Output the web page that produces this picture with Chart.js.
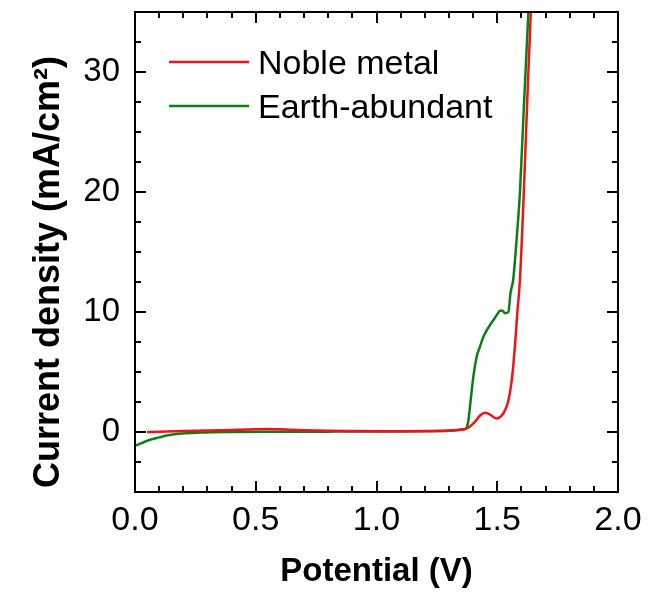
<!DOCTYPE html>
<html>
<head>
<meta charset="utf-8">
<script src="https://cdn.jsdelivr.net/npm/chart.js@4.4.0/dist/chart.umd.min.js"></script>
<style>
  html, body { margin: 0; padding: 0; background: #fff; }
</style>
</head>
<body>
<canvas id="myChart" width="663" height="597"></canvas>
<script>
// tick labels
const xTicks = [0, 0.5, 1.0, 1.5, 2.0];
const yTicks = [0, 10, 20, 30];

// Noble metal curve (V, mA/cm2)
const noblePotential = [0.05, 0.10, 0.20, 0.30, 0.40, 0.50, 0.55, 0.60, 0.70, 0.80, 0.90, 1.00, 1.10, 1.20, 1.30, 1.35, 1.38, 1.41, 1.43, 1.45, 1.47, 1.497, 1.515, 1.532, 1.546, 1.56, 1.573, 1.583, 1.594, 1.61, 1.625, 1.645];
const nobleCurrent   = [0.00, 0.03, 0.08, 0.12, 0.17, 0.22, 0.25, 0.22, 0.15, 0.10, 0.08, 0.07, 0.07, 0.08, 0.12, 0.18, 0.35, 0.90, 1.40, 1.60, 1.45, 1.12, 1.30, 1.80, 2.60, 4.30, 7.10, 9.90, 12.7, 20.0, 28.0, 38.0];

// Earth-abundant curve (V, mA/cm2)
const earthPotential = [0.00, 0.03, 0.062, 0.10, 0.131, 0.18, 0.27, 0.40, 0.60, 0.80, 1.00, 1.20, 1.30, 1.35, 1.365, 1.373, 1.38, 1.387, 1.394, 1.401, 1.415, 1.43, 1.442, 1.46, 1.483, 1.50, 1.511, 1.522, 1.532, 1.546, 1.555, 1.566, 1.58, 1.594, 1.61, 1.629, 1.64];
const earthCurrent   = [-1.15, -0.90, -0.65, -0.45, -0.30, -0.15, -0.05, 0.00, 0.02, 0.03, 0.04, 0.06, 0.10, 0.20, 0.25, 0.35, 0.90, 2.10, 3.40, 4.60, 6.30, 7.20, 7.90, 8.60, 9.30, 9.80, 10.1, 10.1, 9.90, 10.0, 11.6, 12.7, 16.0, 20.0, 27.0, 35.0, 40.0];

const FONT = "'Liberation Sans', Arial, sans-serif";

function toPoints(xs, ys) {
  return xs.map((v, i) => ({ x: v, y: ys[i] }));
}

// frame with inward ticks on all four sides
const frameTicks = {
  id: 'frameTicks',
  afterDatasetsDraw(chart) {
    const { ctx, chartArea: a, scales: { x, y } } = chart;
    ctx.save();
    ctx.strokeStyle = '#000';
    ctx.lineWidth = 2;
    ctx.beginPath();
    for (let i = 0; i <= 20; i++) {
      const v = i / 10;
      const px = Math.round(x.getPixelForValue(v));
      const len = (i % 5 === 0) ? 11 : 6;
      ctx.moveTo(px, a.bottom); ctx.lineTo(px, a.bottom - len);
      ctx.moveTo(px, a.top); ctx.lineTo(px, a.top + len);
    }
    for (let i = -2; i <= 14; i++) {
      const v = i * 2.5;
      const py = Math.round(y.getPixelForValue(v));
      const len = (i % 4 === 0) ? 11 : 6;
      ctx.moveTo(a.left, py); ctx.lineTo(a.left + len, py);
      ctx.moveTo(a.right, py); ctx.lineTo(a.right - len, py);
    }
    ctx.stroke();
    ctx.strokeRect(a.left, a.top, a.right - a.left, a.bottom - a.top);
    ctx.restore();
  }
};

// legend drawn inside the plot, top left
const innerLegend = {
  id: 'innerLegend',
  afterDraw(chart) {
    const ctx = chart.ctx;
    ctx.save();
    ctx.font = '34px ' + FONT;
    ctx.fillStyle = '#000';
    ctx.textBaseline = 'alphabetic';
    chart.data.datasets.forEach((ds, i) => {
      const ly = 62 + i * 44;
      ctx.strokeStyle = ds.borderColor;
      ctx.lineWidth = 2.5;
      ctx.beginPath();
      ctx.moveTo(169, ly);
      ctx.lineTo(249, ly);
      ctx.stroke();
      ctx.fillText(ds.label, 258, ly + 12);
    });
    ctx.restore();
  }
};

const ctx = document.getElementById('myChart').getContext('2d');
const myChart = new Chart(ctx, {
  type: 'line',
  data: {
    datasets: [
      {
        label: 'Noble metal',
        data: toPoints(noblePotential, nobleCurrent),
        borderColor: 'rgb(240, 20, 20)',
        borderWidth: 2.5,
        pointRadius: 0,
        cubicInterpolationMode: 'monotone',
        clip: 0
      },
      {
        label: 'Earth-abundant',
        data: toPoints(earthPotential, earthCurrent),
        borderColor: 'rgb(10, 128, 20)',
        borderWidth: 2.5,
        pointRadius: 0,
        cubicInterpolationMode: 'monotone',
        clip: 0
      }
    ]
  },
  options: {
    responsive: false,
    animation: false,
    layout: { padding: { top: 12, right: 45, left: 0, bottom: 0 } },
    plugins: {
      legend: { display: false },
      tooltip: { enabled: false }
    },
    scales: {
      x: {
        type: 'linear',
        min: 0,
        max: 2,
        afterBuildTicks: s => { s.ticks = xTicks.map(v => ({ value: v })); },
        afterFit: s => { s.height = 105; s.paddingLeft = 0; s.paddingRight = 0; },
        grid: { display: false, drawTicks: false },
        border: { display: false },
        ticks: {
          padding: 8,
          color: '#000',
          font: { family: FONT, size: 34 },
          callback: v => v.toFixed(1)
        },
        title: {
          display: true,
          text: 'Potential (V)',
          color: '#000',
          font: { family: FONT, size: 33, weight: 'bold' },
          padding: { top: 0, bottom: 5 }
        }
      },
      y: {
        type: 'linear',
        min: -5,
        max: 35,
        afterBuildTicks: s => { s.ticks = yTicks.map(v => ({ value: v })); },
        afterFit: s => { s.width = 135; s.paddingTop = 0; s.paddingBottom = 0; },
        grid: { display: false, drawTicks: false },
        border: { display: false },
        ticks: {
          padding: 15,
          color: '#000',
          font: { family: FONT, size: 33 }
        },
        title: {
          display: true,
          text: 'Current density (mA/cm\u00B2)    ',
          color: '#000',
          font: { family: FONT, size: 36, weight: 'bold' },
          padding: { top: 27, bottom: 0 }
        }
      }
    }
  },
  plugins: [frameTicks, innerLegend]
});
</script>
</body>
</html>
